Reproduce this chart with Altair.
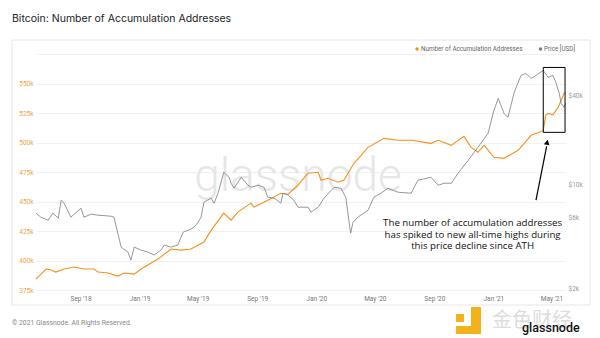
import altair as alt
import pandas as pd

# ---------------- data ----------------
acc_dates = ["2018-06-01", "2018-06-22", "2018-07-02", "2018-07-12", "2018-07-29", "2018-08-19",
             "2018-09-08", "2018-09-29", "2018-10-07", "2018-10-28", "2018-11-17", "2018-11-30",
             "2018-12-21", "2019-01-04", "2019-01-25", "2019-02-08", "2019-03-07", "2019-03-28",
             "2019-04-17", "2019-05-14", "2019-05-29", "2019-06-24", "2019-07-09", "2019-07-23",
             "2019-08-19", "2019-08-25", "2019-09-23", "2019-10-20", "2019-11-04", "2019-11-24",
             "2019-12-15", "2020-01-05", "2020-01-11", "2020-01-25", "2020-02-15", "2020-02-27",
             "2020-03-19", "2020-04-17", "2020-05-20", "2020-06-18", "2020-07-15", "2020-08-25",
             "2020-09-09", "2020-10-06", "2020-11-01", "2020-11-16", "2020-11-30", "2020-12-13",
             "2021-01-02", "2021-01-23", "2021-02-21", "2021-03-20", "2021-04-14", "2021-04-19",
             "2021-04-24", "2021-05-04", "2021-05-10", "2021-05-15", "2021-05-21", "2021-05-27",
             "2021-05-30"]
acc_values = [384300, 392800, 391900, 390200, 392800, 394500,
              392800, 392800, 390200, 389400, 386800, 389400,
              388500, 392800, 397800, 401200, 409700, 408800,
              409700, 415600, 425700, 440100, 434200, 441000,
              448600, 445200, 451100, 457000, 456200, 463800,
              473900, 474800, 468000, 469700, 466300, 468000,
              482400, 495900, 503500, 501900, 501900, 499300,
              501900, 497600, 505200, 495900, 491700, 497600,
              487500, 486600, 493400, 506100, 510000, 523000,
              524700, 523500, 527000, 529800, 535700, 541600,
              542400]

price_dates = ["2018-06-01", "2018-06-11", "2018-06-26", "2018-07-06", "2018-07-17", "2018-07-23",
               "2018-07-29", "2018-08-12", "2018-09-02", "2018-09-08", "2018-09-23", "2018-10-07",
               "2018-11-03", "2018-11-09", "2018-11-17", "2018-11-24", "2018-12-08", "2018-12-14",
               "2018-12-21", "2019-01-04", "2019-01-18", "2019-01-31", "2019-02-14", "2019-02-21",
               "2019-03-07", "2019-03-21", "2019-04-01", "2019-04-17", "2019-04-28", "2019-05-08",
               "2019-05-14", "2019-05-29", "2019-06-04", "2019-06-12", "2019-06-24", "2019-07-05",
               "2019-07-09", "2019-07-15", "2019-07-30", "2019-08-13", "2019-08-19", "2019-09-03",
               "2019-09-15", "2019-09-23", "2019-10-06", "2019-10-20", "2019-10-24", "2019-11-04",
               "2019-11-16", "2019-11-24", "2019-12-15", "2019-12-21", "2020-01-05", "2020-01-17",
               "2020-02-07", "2020-02-21", "2020-03-02", "2020-03-12", "2020-03-17", "2020-03-27",
               "2020-04-17", "2020-04-29", "2020-05-14", "2020-05-28", "2020-06-18", "2020-07-15",
               "2020-07-29", "2020-08-25", "2020-09-09", "2020-09-21", "2020-10-06", "2020-10-20",
               "2020-11-10", "2020-11-30", "2020-12-21", "2021-01-02", "2021-01-11", "2021-01-23",
               "2021-01-31", "2021-02-13", "2021-02-27", "2021-03-09", "2021-03-20", "2021-03-30",
               "2021-04-14", "2021-04-24", "2021-05-04", "2021-05-10", "2021-05-17", "2021-05-21",
               "2021-05-27", "2021-05-30"]
price_values = [6426, 6036, 5760, 6426, 5944, 7864,
                7504, 6036, 6942, 6036, 6325, 6226,
                6130, 6036, 4706, 3785, 3502, 3092,
                3785, 3612, 3502, 3342, 3612, 3904,
                3785, 3904, 4780, 5008, 5332, 6036,
                7624, 8112, 7504, 8770, 12158, 11246,
                10246, 9478, 11246, 9930, 9628, 9930,
                9628, 8240, 8112, 7504, 8770, 8498,
                7864, 7052, 7052, 6524, 7052, 8112,
                9628, 9478, 8240, 4706, 5584, 6036,
                6730, 8240, 8770, 9478, 8906, 8770,
                10732, 11246, 9930, 10246, 10246, 11968,
                14650, 17936, 22300, 31900, 38440, 30440,
                28600, 42200, 55000, 56720, 52460, 55000,
                59440, 53320, 55000, 49320, 41560, 35560,
                33420, 35560]

x_tick_dates = ["2018-09-01", "2019-01-01", "2019-05-01", "2019-09-01", "2020-01-01",
                "2020-05-01", "2020-09-01", "2021-01-01", "2021-05-01"]
x_domain_dates = ["2018-06-01", "2021-05-31"]
left_ticks = [375000, 400000, 425000, 450000, 475000, 500000, 525000, 550000, 575000]
left_domain = [375000, 575000]
right_ticks = [2000, 6000, 10000, 40000]
right_domain = [1940, 76800]

box_dates = ["2021-04-14", "2021-05-29"]
box_values = [508600, 563600]
arrow_dates = ["2021-03-30", "2021-04-21"]
arrow_values = [451100, 496800]
arrow_head_date = ["2021-04-22"]
arrow_head_value = [500200]
note_date = ["2020-11-19"]
note_value = [431700]
note_text = ("The number of accumulation addresses\n"
             "has spiked to new all-time highs during\n"
             "this price decline since ATH")

series_names = ["Number of Accumulation Addresses", "Price [USD]"]


def ms(d):
    return int(pd.Timestamp(d).value // 10**6)


ORANGE = "#f2911b"
GRAY = "#7c7c7c"

df_acc = pd.DataFrame({"date": acc_dates, "value": acc_values})
df_price = pd.DataFrame({"date": price_dates, "price": price_values})
df_box = pd.DataFrame({"d1": [box_dates[0]], "d2": [box_dates[1]],
                       "v1": [box_values[0]], "v2": [box_values[1]]})
df_arrow = pd.DataFrame({"d1": [arrow_dates[0]], "d2": [arrow_dates[1]],
                         "v1": [arrow_values[0]], "v2": [arrow_values[1]]})
df_head = pd.DataFrame({"date": arrow_head_date, "value": arrow_head_value})
df_note = pd.DataFrame({"date": note_date, "value": note_value, "txt": [note_text]})
one = pd.DataFrame({"k": [0]})

xscale = alt.Scale(type="utc", domain=[ms(d) for d in x_domain_dates], nice=False)
xaxis = alt.Axis(values=[ms(d) for d in x_tick_dates],
                 labelExpr='utcFormat(datum.value, "%b \'%y")',
                 grid=False, ticks=False, domain=False, labelColor="#777",
                 labelFontSize=6.5, labelFont="Roboto", labelPadding=5,
                 labelFlush=False, labelOverlap=False)
xenc = alt.X("date:T", scale=xscale, axis=xaxis, title=None)

yL = alt.Scale(domain=left_domain, nice=False, zero=False)
yR = alt.Scale(type="log", domain=right_domain, nice=False)

left_axis = alt.Axis(orient="left", values=left_ticks,
                     labelExpr="datum.value >= 575000 ? '' : (datum.value/1000) + 'k'",
                     grid=True, gridColor="#ededed", gridWidth=0.8, ticks=False, domain=False,
                     labelColor="#eea24a", labelFontSize=6.5, labelFont="Roboto",
                     labelPadding=3)
right_axis = alt.Axis(orient="right", values=right_ticks,
                      labelExpr="'$' + (datum.value/1000) + 'k'",
                      grid=False, ticks=False, domain=False,
                      labelColor="#999", labelFontSize=6.5, labelFont="Roboto",
                      labelPadding=2)

# watermark
watermark = alt.Chart(one).mark_text(
    text="glassnode", fontSize=46, font="Roboto", fontWeight=300, color="#e6e6e6",
    align="center", baseline="alphabetic"
).encode(x=alt.value(262), y=alt.value(137))

acc_line = alt.Chart(df_acc).mark_line(color=ORANGE, strokeWidth=1.1).encode(
    x=xenc, y=alt.Y("value:Q", scale=yL, axis=left_axis, title=None))

price_line = alt.Chart(df_price).mark_line(color=GRAY, strokeWidth=0.8).encode(
    x=xenc, y=alt.Y("price:Q", scale=yR, axis=right_axis, title=None))

box = alt.Chart(df_box).mark_rect(fillOpacity=0, stroke="black", strokeWidth=1).encode(
    x=alt.X("d1:T", scale=xscale, title=None), x2="d2:T",
    y=alt.Y("v1:Q", scale=yL, axis=None), y2="v2:Q")

arrow = alt.Chart(df_arrow).mark_rule(color="black", strokeWidth=1.2).encode(
    x=alt.X("d1:T", scale=xscale, title=None), x2="d2:T",
    y=alt.Y("v1:Q", scale=yL, axis=None), y2="v2:Q")

head = alt.Chart(df_head).mark_point(shape="triangle-up", filled=True, color="black",
                                     opacity=1, size=32, angle=11).encode(
    x=alt.X("date:T", scale=xscale, title=None),
    y=alt.Y("value:Q", scale=yL, axis=None))

note = alt.Chart(df_note).mark_text(
    font="Open Sans", fontSize=9.7, fontWeight=400, color="#111", align="center",
    baseline="middle", lineBreak="\n", lineHeight=11.5
).encode(x=alt.X("date:T", scale=xscale, title=None),
         y=alt.Y("value:Q", scale=yL, axis=None), text="txt:N")

# frame, title, footer, legend
frame = alt.Chart(one).mark_rect(fillOpacity=0, stroke="#e6e6e6", strokeWidth=1).encode(
    x=alt.value(-24), x2=alt.value(554), y=alt.value(-14), y2=alt.value(251))

title = alt.Chart(one).mark_text(
    text="Bitcoin: Number of Accumulation Addresses", fontSize=10.5, font="Inter",
    color="#222", align="left", baseline="middle").encode(x=alt.value(-24), y=alt.value(-35))

footer = alt.Chart(one).mark_text(
    text="© 2021 Glassnode. All Rights Reserved.", fontSize=6.8, font="Roboto",
    color="#888", align="left", baseline="middle").encode(x=alt.value(-24), y=alt.value(269))

leg_dot1 = alt.Chart(one).mark_circle(color=ORANGE, size=12, opacity=1).encode(
    x=alt.value(381), y=alt.value(-5))
leg_txt1 = alt.Chart(one).mark_text(
    text=series_names[0], fontSize=6.3, font="Roboto", color="#666",
    align="left", baseline="middle").encode(x=alt.value(385), y=alt.value(-5))
leg_dot2 = alt.Chart(one).mark_circle(color=GRAY, size=12, opacity=1).encode(
    x=alt.value(504.5), y=alt.value(-5))
leg_txt2 = alt.Chart(one).mark_text(
    text=series_names[1], fontSize=6.3, font="Roboto", color="#666",
    align="left", baseline="middle").encode(x=alt.value(508), y=alt.value(-5))

# bottom-right overlay logo
logo_sq = alt.Chart(one).mark_rect(color="#f3b21b").encode(
    x=alt.value(420), x2=alt.value(428), y=alt.value(260), y2=alt.value(268))
logo_v = alt.Chart(one).mark_rect(color="#f3b21b").encode(
    x=alt.value(435), x2=alt.value(445), y=alt.value(253), y2=alt.value(280))
logo_h = alt.Chart(one).mark_rect(color="#f3b21b").encode(
    x=alt.value(420), x2=alt.value(445), y=alt.value(272), y2=alt.value(280))
logo_cn = alt.Chart(one).mark_text(
    text="金色财经", fontSize=20, font="Noto Sans CJK SC", color="#dddddd",
    align="left", baseline="middle").encode(x=alt.value(456), y=alt.value(267))
logo_gn = alt.Chart(one).mark_text(
    text="glassnode", fontSize=12.5, font="Roboto", fontWeight=500, color="#111",
    align="left", baseline="middle").encode(x=alt.value(486), y=alt.value(274))

chart = alt.layer(
    watermark, acc_line, price_line, box, arrow, head, note,
    frame, title, footer, leg_dot1, leg_txt1, leg_dot2, leg_txt2,
    logo_sq, logo_v, logo_h, logo_cn, logo_gn
).resolve_scale(y="independent").properties(
    width=530, height=236,
    padding={"left": 36, "top": 54, "right": 34, "bottom": 48},
    autosize=alt.AutoSizeParams(type="none"),
    background="white"
).configure_view(stroke=None)

chart.save("out.html", embed_options={"renderer": "svg", "actions": False})
